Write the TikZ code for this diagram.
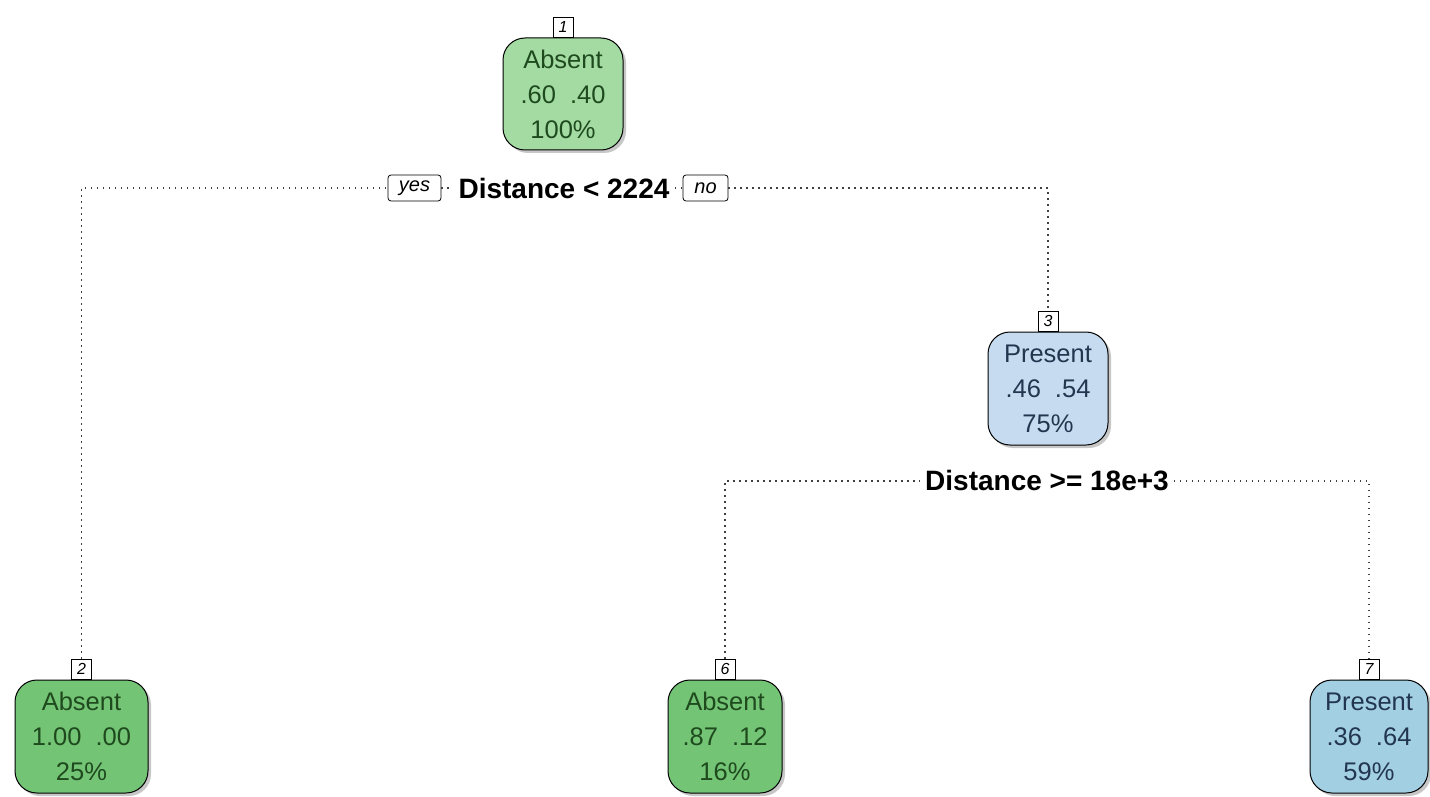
\documentclass[tikz,border=0pt]{standalone}
\usepackage{fontspec}
\setmainfont{Liberation Sans}
\usetikzlibrary{shadows}
\definecolor{gA}{HTML}{A3DBA3}
\definecolor{gB}{HTML}{74C476}
\definecolor{bA}{HTML}{C6DBEF}
\definecolor{bB}{HTML}{A3CFE3}
\definecolor{tg}{HTML}{1E4A1E}
\definecolor{tb}{HTML}{22364F}
\tikzset{
  leafbox/.style={draw=black, line width=1pt, rounded corners=22pt, inner sep=0pt,
    align=center, font=\fontsize{25.5}{35}\selectfont,
    drop shadow={shadow xshift=3pt, shadow yshift=-3pt, fill=gray!55, opacity=0.8}},
  numbox/.style={draw=black, fill=white, line width=0.8pt, minimum width=20pt, minimum height=20pt,
    inner sep=0pt, font=\fontsize{16}{16}\selectfont\itshape},
  ynbox/.style={draw=black, fill=white, line width=0.8pt, rounded corners=3pt, inner sep=0pt,
    minimum height=26pt, font=\fontsize{20}{20}\selectfont\itshape},
  splitlab/.style={inner sep=5pt, font=\fontsize{28}{28}\selectfont\bfseries},
  conn/.style={draw=black!75, line width=1.4pt, dash pattern=on 1.4pt off 4.6pt},
}
\begin{document}
\begin{tikzpicture}[x=1pt,y=-1pt]
\useasboundingbox (0,0) rectangle (1430,797);
% nodes
\node[leafbox, fill=gA, text=tg, minimum width=120pt, minimum height=112pt] (n1) at (563,94)
  {Absent\\.60\hspace{0.55em}.40\\100\%};
\node[numbox, anchor=south] (l1) at (n1.north) {1};
\node[leafbox, fill=bA, text=tb, minimum width=120pt, minimum height=113pt] (n3) at (1048,388.5)
  {Present\\.46\hspace{0.55em}.54\\75\%};
\node[numbox, anchor=south] (l3) at (n3.north) {3};
\node[leafbox, fill=gB, text=tg, minimum width=133pt, minimum height=113pt] (n2) at (81.5,736.5)
  {Absent\\1.00\hspace{0.55em}.00\\25\%};
\node[numbox, anchor=south] (l2) at (n2.north) {2};
\node[leafbox, fill=gB, text=tg, minimum width=114pt, minimum height=113pt] (n6) at (725,736.5)
  {Absent\\.87\hspace{0.55em}.12\\16\%};
\node[numbox, anchor=south] (l6) at (n6.north) {6};
\node[leafbox, fill=bB, text=tb, minimum width=118pt, minimum height=113pt] (n7) at (1369,736.5)
  {Present\\.36\hspace{0.55em}.64\\59\%};
\node[numbox, anchor=south] (l7) at (n7.north) {7};
% split 1
\node[splitlab] (s1) at (564,188) {Distance < 2224};
\node[ynbox, minimum width=53pt] (yes) at (414.5,188) {yes};
\node[ynbox, minimum width=45pt] (no) at (705.5,188) {no};
% split 2
\node[splitlab] (s2) at (1047,481) {Distance >= 18e+3};
% connectors
\draw[conn] (l2.north) |- (yes.west);
\draw[conn] (yes.east) -- (s1.west);
\draw[conn] (s1.east) -- (no.west);
\draw[conn] (no.east) -| (l3.north);
\draw[conn] (l6.north) |- (s2.west);
\draw[conn] (s2.east) -| (l7.north);
\end{tikzpicture}
\end{document}
